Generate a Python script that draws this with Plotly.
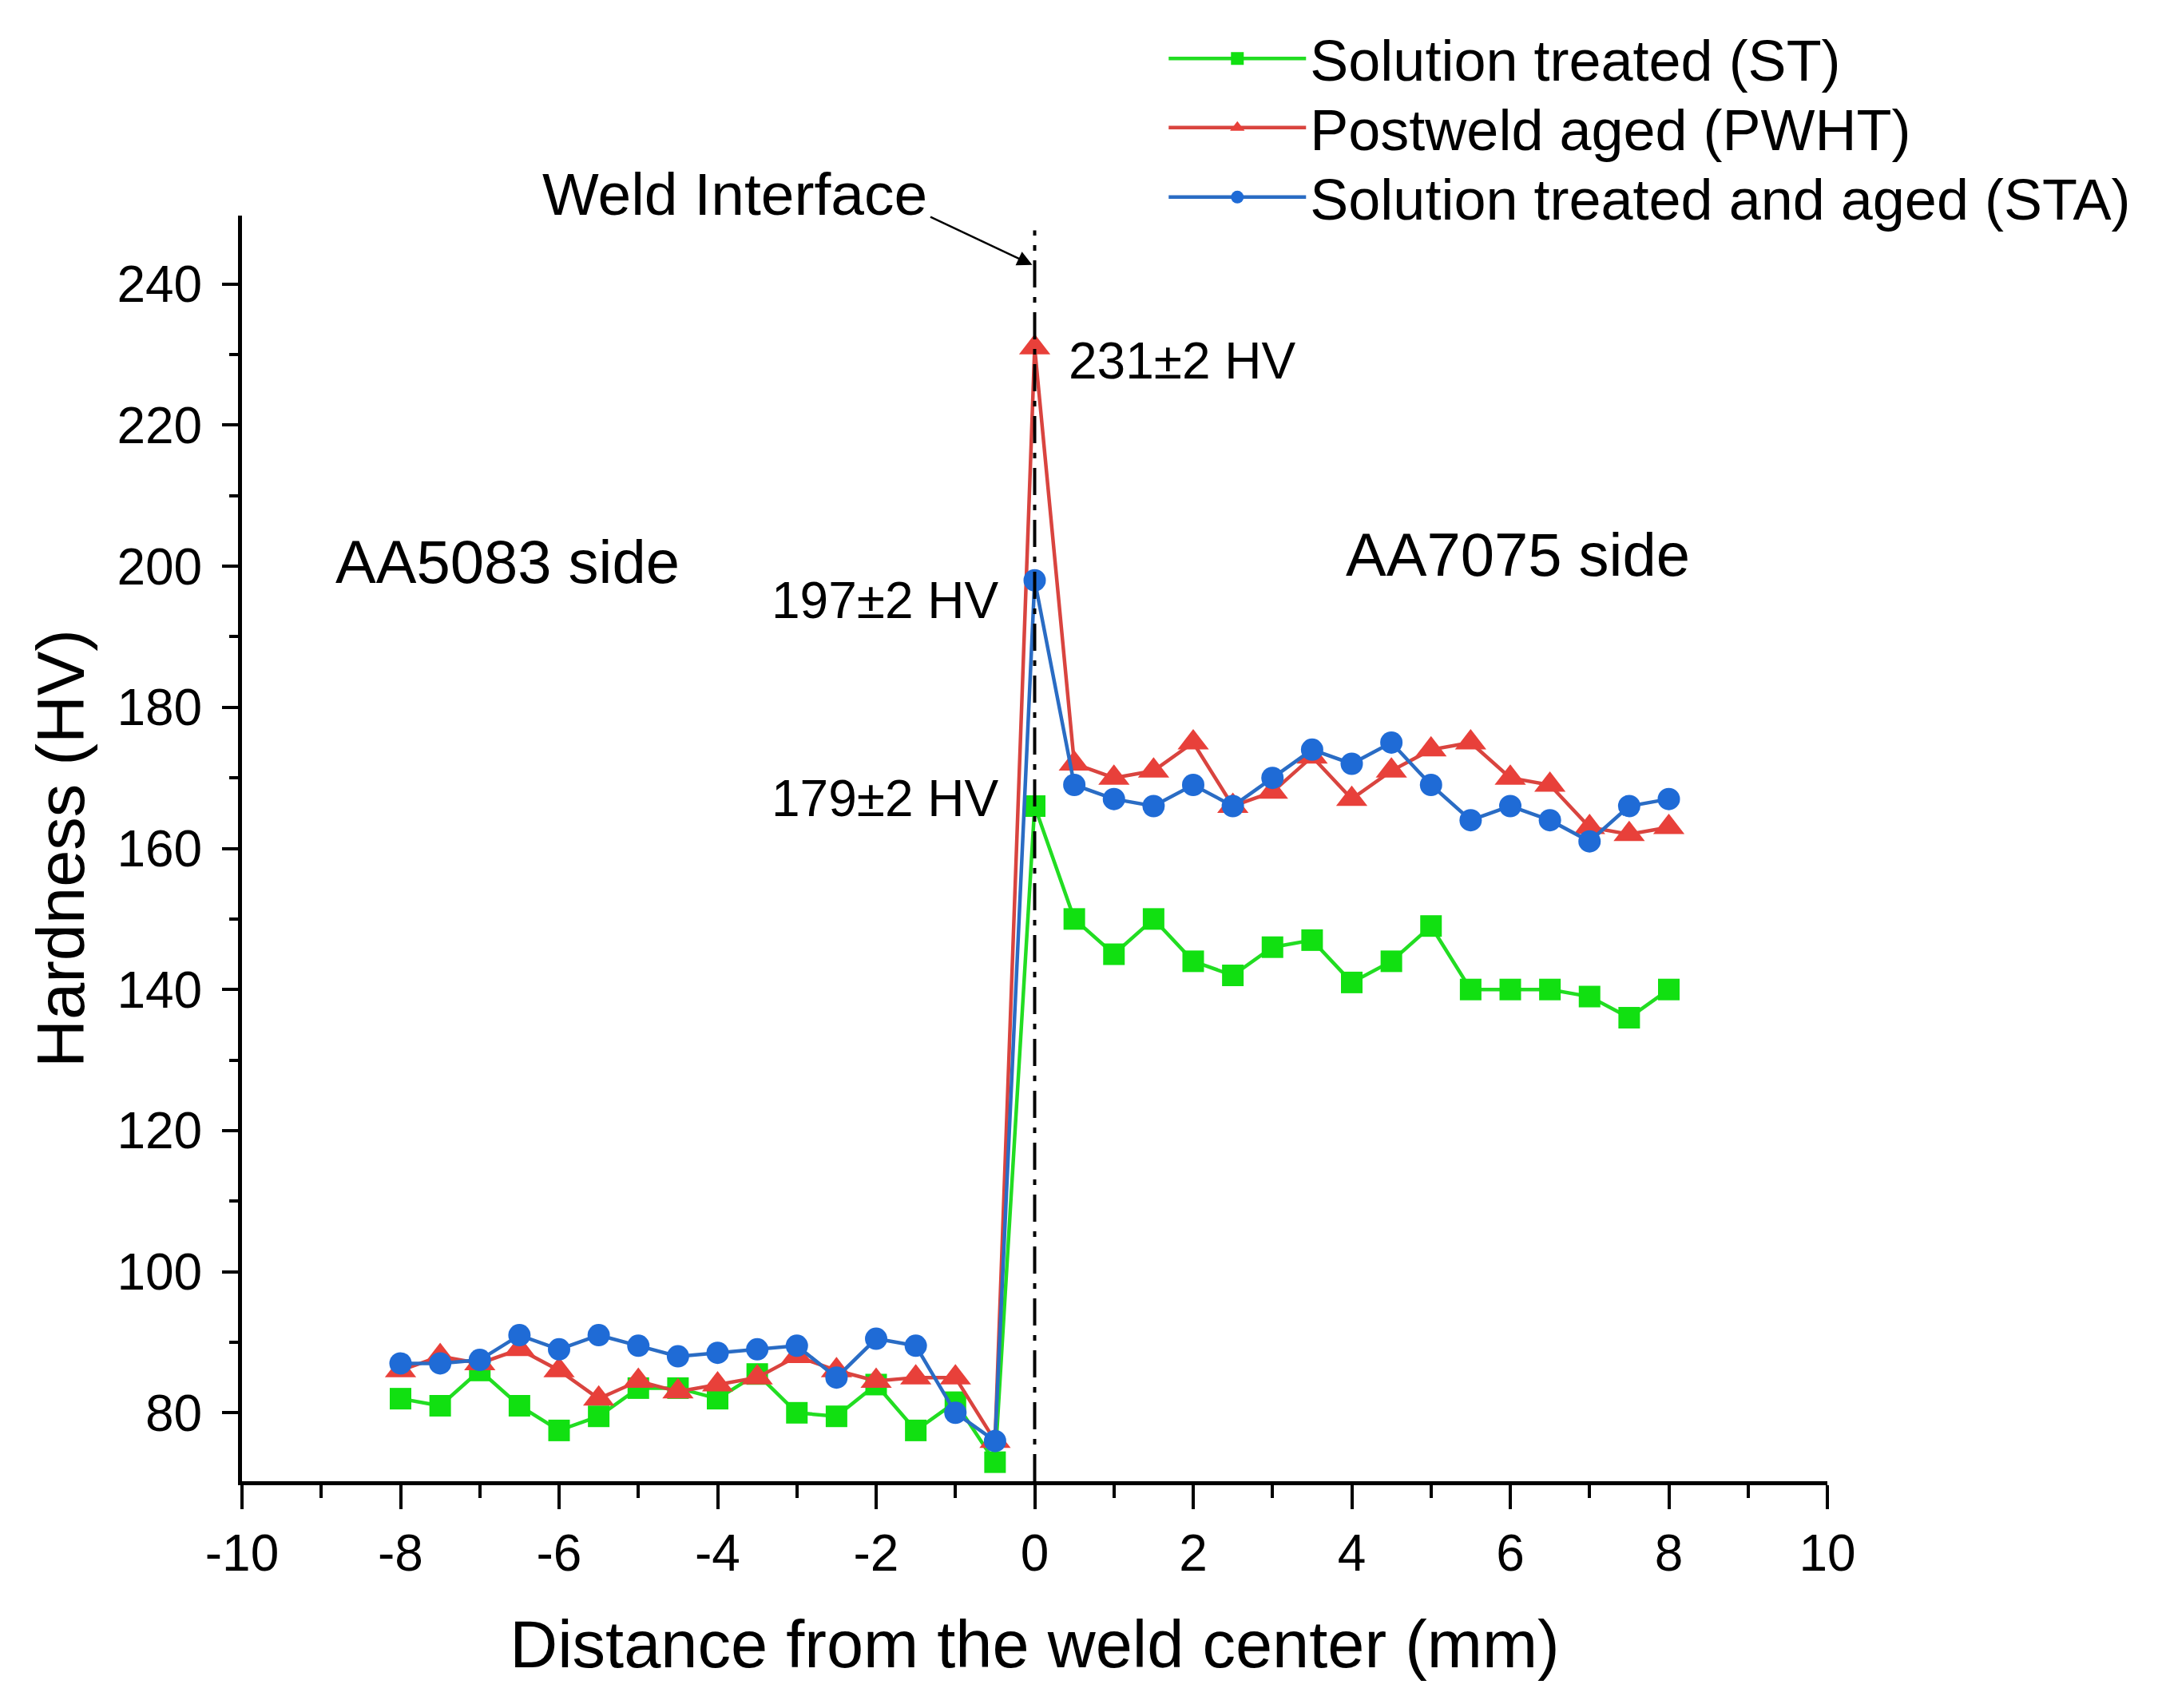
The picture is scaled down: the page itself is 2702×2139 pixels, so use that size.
import plotly.graph_objects as go

# distance from the weld center (mm), same positions for all three curves
distance = [-8, -7.5, -7, -6.5, -6, -5.5, -5, -4.5, -4, -3.5, -3, -2.5, -2, -1.5, -1, -0.5,
            0, 0.5, 1, 1.5, 2, 2.5, 3, 3.5, 4, 4.5, 5, 5.5, 6, 6.5, 7, 7.5, 8]

# hardness (HV)
st = [82, 81, 86, 81, 77.5, 79.5, 83.5, 83.5, 82, 85.5, 80, 79.5, 84, 77.5, 81.5, 73,
      166, 150, 145, 150, 144, 142, 146, 147, 141, 144, 149, 140, 140, 140, 139, 136, 140]
pwht = [86, 88, 87, 89, 86, 82, 84.5, 83, 84, 85, 88, 86, 84.5, 85, 85, 76,
        231, 172, 170, 171, 175, 166, 168, 173, 167, 171, 174, 175, 170, 169, 163, 162, 163]
sta = [87, 87, 87.5, 91, 89, 91, 89.5, 88, 88.5, 89, 89.5, 85, 90.5, 89.5, 80, 76,
       198, 169, 167, 166, 169, 166, 170, 174, 172, 175, 169, 164, 166, 164, 161, 166, 167]

x_ticks = list(range(-10, 11, 2))
y_ticks = list(range(80, 241, 20))

font = "Liberation Sans, Arial, sans-serif"

fig = go.Figure()
fig.add_trace(go.Scatter(x=distance, y=st, mode="lines+markers", name="Solution treated (ST)",
                         line=dict(color="#22dd22", width=4.5), legend="legend", showlegend=True,
                         marker=dict(symbol="square", size=27, color="#11e011")))
fig.add_trace(go.Scatter(x=distance, y=pwht, mode="lines+markers", name="Postweld aged (PWHT)",
                         line=dict(color="#d9443f", width=4.5), legend="legend2", showlegend=True,
                         marker=dict(symbol="triangle-up", size=34, color="#e8403a")))
fig.add_trace(go.Scatter(x=distance, y=sta, mode="lines+markers", name="Solution treated and aged (STA)",
                         line=dict(color="#2a6cc4", width=4.5), legend="legend3", showlegend=True,
                         marker=dict(symbol="circle", size=28, color="#1f6bd6")))

# weld interface line
fig.add_shape(type="line", x0=0, x1=0, y0=70.3, y1=247.6, xref="x", yref="y",
              line=dict(color="black", width=4, dash="34px,12px,7px,12px"))

fig.add_annotation(x=-0.03, y=242.7, ax=-1.33, ay=249.6, xref="x", yref="y", axref="x", ayref="y",
                   showarrow=True, arrowhead=2, arrowsize=1.5, arrowwidth=2.5, arrowcolor="black", text="")
fig.add_annotation(x=-3.78, y=1.045, xref="x", yref="paper", text="Weld Interface", showarrow=False,
                   font=dict(size=75, color="black", family=font))

fig.add_annotation(x=0.41, y=229.1, xref="x", yref="y", text="231±2 HV", showarrow=False, xanchor="left",
                   font=dict(size=64, color="black", family=font))
fig.add_annotation(x=-0.43, y=195.2, xref="x", yref="y", text="197±2 HV", showarrow=False, xanchor="right",
                   font=dict(size=64, color="black", family=font))
fig.add_annotation(x=-0.43, y=167.1, xref="x", yref="y", text="179±2 HV", showarrow=False, xanchor="right",
                   font=dict(size=64, color="black", family=font))
fig.add_annotation(x=-6.65, y=200.6, xref="x", yref="y", text="AA5083 side", showarrow=False,
                   font=dict(size=76, color="black", family=font))
fig.add_annotation(x=6.1, y=201.6, xref="x", yref="y", text="AA7075 side", showarrow=False,
                   font=dict(size=76, color="black", family=font))

legend_style = dict(x=0.582, xanchor="left", yanchor="middle", bgcolor="rgba(0,0,0,0)",
                    font=dict(size=72, family=font), itemwidth=172, visible=True)

fig.update_layout(
    width=2702, height=2139,
    paper_bgcolor="white", plot_bgcolor="white",
    margin=dict(l=295, r=422, t=244, b=292),
    font=dict(family=font, color="black"),
    showlegend=True,
    legend=dict(y=1.124, **legend_style),
    legend2=dict(y=1.0695, **legend_style),
    legend3=dict(y=1.0145, **legend_style),
)
fig.update_xaxes(range=[-10, 10], tickmode="array", tickvals=x_ticks, ticktext=[str(v) for v in x_ticks],
                 showgrid=False, zeroline=False, showline=True, linecolor="black", linewidth=5,
                 ticks="outside", ticklen=30, tickwidth=4, tickcolor="black",
                 tickfont=dict(size=64),
                 minor=dict(dtick=1, ticks="outside", ticklen=16, tickwidth=4, tickcolor="black"),
                 title=dict(text="Distance from the weld center (mm)", font=dict(size=83), standoff=52))
fig.update_yaxes(range=[70.3, 249.7], tickmode="array", tickvals=y_ticks, ticktext=[str(v) for v in y_ticks],
                 showgrid=False, zeroline=False, showline=True, linecolor="black", linewidth=5,
                 ticks="outside", ticklen=20, tickwidth=4, tickcolor="black",
                 tickfont=dict(size=64), ticklabelstandoff=12,
                 minor=dict(dtick=10, tick0=0, ticks="outside", ticklen=11, tickwidth=4, tickcolor="black"),
                 title=dict(text="Hardness (HV)", font=dict(size=83), standoff=15))

fig.write_html("out.html")
